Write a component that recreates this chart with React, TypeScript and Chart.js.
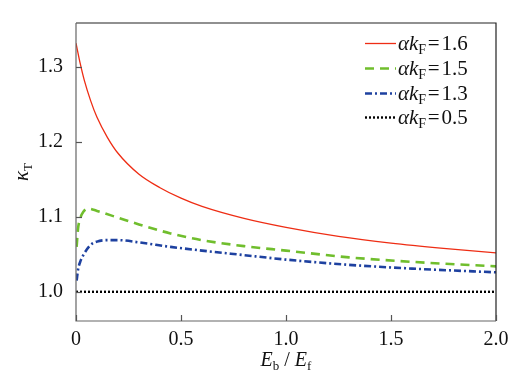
import React, { useEffect, useRef } from "react";
import { Chart, registerables } from "chart.js";

Chart.register(...registerables);

const redX = [0, 0.02, 0.04, 0.07, 0.1, 0.15, 0.2, 0.3, 0.4, 0.5, 0.6, 0.8, 1.0, 1.25, 1.5, 1.75, 2.0];
const redY = [1.332, 1.305, 1.282, 1.255, 1.233, 1.206, 1.185, 1.157, 1.139, 1.125, 1.114, 1.098, 1.086, 1.074, 1.065, 1.058, 1.052];

const greenX = [0.003, 0.01, 0.02, 0.035, 0.06, 0.1, 0.2, 0.3, 0.45, 0.6, 0.8, 1.0, 1.3, 1.6, 2.0];
const greenY = [1.060, 1.085, 1.098, 1.107, 1.111, 1.108, 1.099, 1.090, 1.078, 1.069, 1.061, 1.055, 1.046, 1.040, 1.034];

const blueX = [0.003, 0.01, 0.02, 0.035, 0.067, 0.1, 0.15, 0.2, 0.3, 0.45, 0.6, 0.8, 1.0, 1.3, 1.6, 2.0];
const blueY = [1.015, 1.030, 1.040, 1.049, 1.062, 1.067, 1.069, 1.069, 1.066, 1.060, 1.055, 1.049, 1.043, 1.036, 1.031, 1.026];

const blackX = [0, 2.0];
const blackY = [1.0, 1.0];

const legendValues = ["1.6", "1.5", "1.3", "0.5"];
const xTicks = [0, 0.5, 1.0, 1.5, 2.0];
const yTicks = [1.0, 1.1, 1.2, 1.3];

const SERIF = "Liberation Serif";

function pts(xs: number[], ys: number[]) {
  return xs.map((x, i) => ({ x, y: ys[i] }));
}

const overlayPlugin = {
  id: "overlay",
  afterDraw(chart: any) {
    const { ctx, chartArea } = chart;
    const { left, right, top, bottom } = chartArea;
    const xs = chart.scales.x;
    const ys = chart.scales.y;
    ctx.save();
    ctx.setLineDash([]);
    ctx.lineWidth = 1.2;
    // frame: top/right darker, left/bottom grey
    ctx.strokeStyle = "#222";
    ctx.beginPath();
    ctx.moveTo(left, top);
    ctx.lineTo(right, top);
    ctx.lineTo(right, bottom);
    ctx.stroke();
    ctx.strokeStyle = "#666";
    ctx.beginPath();
    ctx.moveTo(left, top);
    ctx.lineTo(left, bottom);
    ctx.lineTo(right, bottom);
    ctx.stroke();
    ctx.strokeStyle = "#555";
    yTicks.forEach((v) => {
      const y = Math.round(ys.getPixelForValue(v)) + 0.5;
      ctx.beginPath();
      ctx.moveTo(left, y);
      ctx.lineTo(left + 6, y);
      ctx.stroke();
    });
    xTicks.forEach((v) => {
      const x = Math.round(xs.getPixelForValue(v)) + 0.5;
      ctx.beginPath();
      ctx.moveTo(x, bottom);
      ctx.lineTo(x, bottom - 6);
      ctx.stroke();
    });

    const rowY = [43.5, 68.5, 93.5, 117.5];
    chart.data.datasets.forEach((ds: any, i: number) => {
      const y = rowY[i];
      ctx.save();
      ctx.strokeStyle = ds.borderColor;
      ctx.lineWidth = ds.borderWidth;
      ctx.setLineDash(ds.borderDash || []);
      ctx.beginPath();
      ctx.moveTo(365, y);
      ctx.lineTo(396, y);
      ctx.stroke();
      ctx.restore();
      ctx.fillStyle = "#111";
      ctx.textBaseline = "alphabetic";
      ctx.textAlign = "left";
      let x = 398;
      const base = y + 6;
      ctx.font = `italic 21px ${SERIF}`;
      ctx.fillText("\u03b1k", x, base);
      x += ctx.measureText("\u03b1k").width;
      ctx.font = `14px ${SERIF}`;
      ctx.fillText("F", x, base + 4);
      x += ctx.measureText("F").width + 1.5;
      ctx.font = `21px ${SERIF}`;
      ctx.fillText("=", x, base);
      x += ctx.measureText("=").width + 2;
      ctx.fillText(legendValues[i], x, base);
    });

    ctx.fillStyle = "#111";
    {
      const cy = 366;
      const parts = [
        { t: "E", f: `italic 20px ${SERIF}`, dy: 0 },
        { t: "b", f: `13px ${SERIF}`, dy: 4 },
        { t: " / ", f: `20px ${SERIF}`, dy: 0 },
        { t: "E", f: `italic 20px ${SERIF}`, dy: 0 },
        { t: "f", f: `13px ${SERIF}`, dy: 4 },
      ];
      let total = 0;
      parts.forEach((p) => {
        ctx.font = p.f;
        total += ctx.measureText(p.t).width;
      });
      let x = (left + right) / 2 - total / 2;
      parts.forEach((p) => {
        ctx.font = p.f;
        ctx.fillText(p.t, x, cy + p.dy);
        x += ctx.measureText(p.t).width;
      });
    }
    {
      ctx.save();
      ctx.translate(28, 172);
      ctx.rotate(-Math.PI / 2);
      ctx.font = `italic 21px ${SERIF}`;
      const w1 = ctx.measureText("\u03ba").width;
      ctx.font = `13px ${SERIF}`;
      const w2 = ctx.measureText("T").width;
      let x = -(w1 + w2) / 2;
      ctx.font = `italic 21px ${SERIF}`;
      ctx.fillText("\u03ba", x, 0);
      x += w1;
      ctx.font = `13px ${SERIF}`;
      ctx.fillText("T", x, 4);
      ctx.restore();
    }
    ctx.restore();
  },
};

export default function App() {
  const ref = useRef<HTMLCanvasElement | null>(null);
  useEffect(() => {
    if (!ref.current) return;
    const chart = new Chart(ref.current, {
      type: "line",
      data: {
        datasets: [
          { data: pts(redX, redY), borderColor: "rgb(238,45,20)", borderWidth: 1.3, pointRadius: 0, cubicInterpolationMode: "monotone" },
          { data: pts(greenX, greenY), borderColor: "rgb(112,190,45)", borderWidth: 2.6, borderDash: [9, 6], pointRadius: 0, cubicInterpolationMode: "monotone" },
          { data: pts(blueX, blueY), borderColor: "rgb(30,65,160)", borderWidth: 2.6, borderDash: [7, 3, 2, 3], pointRadius: 0, cubicInterpolationMode: "monotone" },
          { data: pts(blackX, blackY), borderColor: "#000", borderWidth: 2.4, borderDash: [2, 2], pointRadius: 0 },
        ],
      } as any,
      options: {
        animation: false,
        responsive: false,
        layout: { padding: { left: 0, right: 34, top: 23, bottom: 0 } },
        plugins: { legend: { display: false }, tooltip: { enabled: false } },
        scales: {
          x: {
            type: "linear",
            min: 0,
            max: 2,
            afterBuildTicks: (s: any) => {
              s.ticks = xTicks.map((v) => ({ value: v }));
            },
            afterFit: (s: any) => {
              s.height = 56;
            },
            ticks: {
              font: { family: SERIF, size: 20 },
              color: "#111",
              padding: -1,
              maxRotation: 0,
              callback: (v: any) => (v === 0 ? "0" : Number(v).toFixed(1)),
            },
            grid: { display: false },
            border: { display: false },
          },
          y: {
            type: "linear",
            min: 0.961,
            max: 1.359,
            afterBuildTicks: (s: any) => {
              s.ticks = yTicks.map((v) => ({ value: v }));
            },
            afterFit: (s: any) => {
              s.width = 76;
            },
            ticks: {
              font: { family: SERIF, size: 20 },
              color: "#111",
              padding: 5,
              callback: (v: any) => Number(v).toFixed(1),
            },
            grid: { display: false },
            border: { display: false },
          },
        },
      } as any,
      plugins: [overlayPlugin],
    });
    return () => chart.destroy();
  }, []);
  return (
    <div style={{ position: "fixed", left: 0, top: 0, width: 530, height: 377, background: "#fff" }}>
      <canvas ref={ref} width={530} height={377} style={{ width: 530, height: 377 }} />
    </div>
  );
}
